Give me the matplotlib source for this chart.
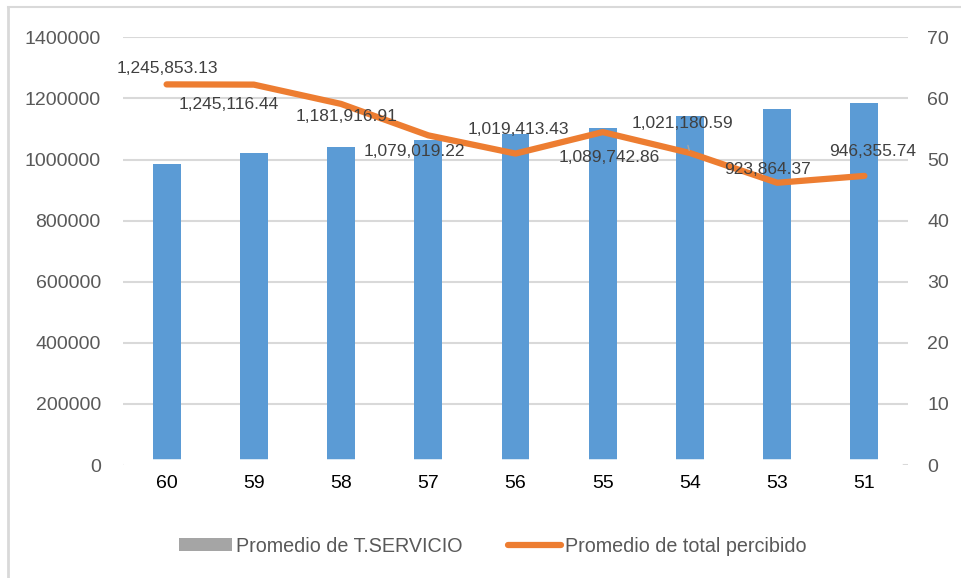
import matplotlib
matplotlib.use("Agg")
import matplotlib.pyplot as plt
from matplotlib import font_manager
from matplotlib.lines import Line2D
from matplotlib.patches import Patch

# ---- data ----
categories = ["60", "59", "58", "57", "56", "55", "54", "53", "51"]
t_servicio = [49.2, 51.1, 52.1, 53.2, 54.1, 55.2, 57.2, 58.2, 59.2]
total_percibido = [1245853.13, 1245116.44, 1181916.91, 1079019.22, 1019413.43,
                   1089742.86, 1021180.59, 923864.37, 946355.74]
left_ticks = [0, 200000, 400000, 600000, 800000, 1000000, 1200000, 1400000]
right_ticks = [0, 10, 20, 30, 40, 50, 60, 70]
# label offsets (pixels) relative to each line point
label_offsets = [(1, 16), (-25, -20), (6, -13), (-14, -16), (3, 24),
                 (7, -25), (-8, 30), (-10, 13), (8, 24)]

plt.rcParams["font.family"] = ["Liberation Sans", "DejaVu Sans"]

BAR_C = "#5B9BD5"
LINE_C = "#ED7D31"
GRID_C = "#D9D9D9"
TXT_C = "#595959"
TICK_FS = 14
LABEL_FS = 12.5
LEG_FS = 14.2

fig = plt.figure(figsize=(9.61, 5.78), dpi=100)
ax = fig.add_axes([123 / 961, 1 - 465 / 578, (908 - 123) / 961, (465 - 37.3) / 578])
ax2 = ax.twinx()

x = list(range(len(categories)))

# bars on secondary axis (0-70)
ax2.bar(x, t_servicio, width=0.32, color=BAR_C, zorder=2)
ax2.set_ylim(0, 70)
ax2.set_yticks(right_ticks)

# line on primary axis; draw primary above secondary
ax.set_zorder(ax2.get_zorder() + 1)
ax.patch.set_visible(False)
ax.plot(x, total_percibido, color=LINE_C, lw=4.5, solid_capstyle="round",
        solid_joinstyle="round", zorder=3)
ax.set_ylim(0, 1400000)
ax.set_yticks(left_ticks)
ax.set_yticklabels([str(v) for v in left_ticks])
ax.set_xlim(-0.5, len(categories) - 0.5)
ax.set_xticks(x)
ax.set_xticklabels(categories)

# grid lines (drawn on secondary so they sit behind bars)
for v in right_ticks[1:]:
    ax2.axhline(v, color=GRID_C, lw=1.5, zorder=0)
# zero level: white band with small gray ends
ax2.axhline(0, color=GRID_C, lw=1.5, zorder=0)
ax2.axhline(0, xmin=0.008, xmax=0.985, color="white", lw=9, zorder=2.5)

for a in (ax, ax2):
    for s in a.spines.values():
        s.set_visible(False)
ax.tick_params(axis="y", length=0, pad=16, labelsize=TICK_FS, labelcolor=TXT_C)
ax.tick_params(axis="x", length=0, pad=7, labelsize=TICK_FS, labelcolor="#000000")
ax2.tick_params(axis="y", length=0, pad=14, labelsize=TICK_FS, labelcolor=TXT_C)

# data labels
for i, (v, (dx, dy)) in enumerate(zip(total_percibido, label_offsets)):
    txt = f"{v:,.2f}"
    if i == 6:
        ax.annotate(txt, xy=(i, v), xytext=(dx, dy), textcoords="offset pixels",
                    ha="center", va="center", fontsize=LABEL_FS, color="#404040", zorder=5,
                    arrowprops=dict(arrowstyle="-", color="#A6A6A6", lw=1,
                                    shrinkA=9, shrinkB=2))
    else:
        ax.annotate(txt, xy=(i, v), xytext=(dx, dy), textcoords="offset pixels",
                    ha="center", va="center", fontsize=LABEL_FS, color="#404040", zorder=5)

# legend
handles = [Patch(facecolor="#A5A5A5", edgecolor="none", label="Promedio de T.SERVICIO"),
           Line2D([], [], color=LINE_C, lw=4.5, solid_capstyle="round",
                  label="Promedio de total percibido")]
fig.legend(handles=handles, loc="center", bbox_to_anchor=(493 / 961, 1 - 546 / 578),
           ncol=2, frameon=False, fontsize=LEG_FS, labelcolor=TXT_C,
           handlelength=2.7, handleheight=0.6, handletextpad=0.2, columnspacing=2.3)

# chart frame (left and top edges visible)
fig.add_artist(Line2D([8 / 961, 8 / 961], [0, 1 - 7 / 578], transform=fig.transFigure,
                      color="#D9D9D9", lw=2))
fig.add_artist(Line2D([8 / 961, 1], [1 - 7 / 578, 1 - 7 / 578], transform=fig.transFigure,
                      color="#D9D9D9", lw=1.5))

fig.savefig("out.png", dpi=100, facecolor="white")
